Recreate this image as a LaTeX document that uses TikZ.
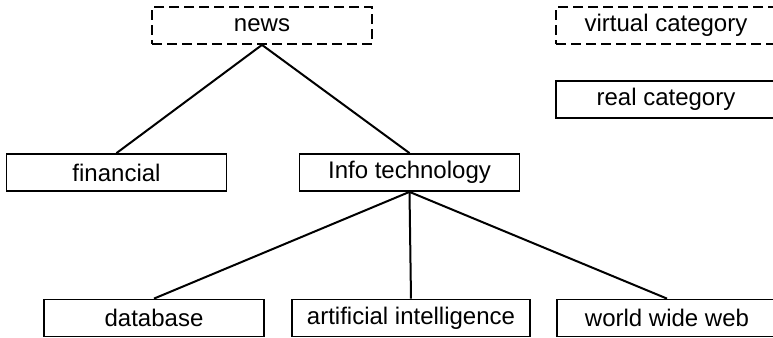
\documentclass[tikz,border=0pt]{standalone}
\usepackage{fontspec}
\setmainfont{Liberation Sans}
\usetikzlibrary{positioning}
\tikzset{every path/.style={black, line width=1pt}, cat/.style={draw, line width=0.9pt, minimum width=110pt, minimum height=18.5pt, inner sep=0pt, font=\fontsize{12}{14}\selectfont}, virtcat/.style={cat, dash pattern=on 5pt off 2.5pt}}

\begin{document}
\begin{tikzpicture}[x=0.5pt,y=-0.5pt]
  \useasboundingbox (0,0) rectangle (773,338);
  \node[virtcat] (news) at (262,25.5) {news};
  \node[virtcat] (virtual) at (666,25.5) {virtual category};
  \node[cat] (real) at (666,99.5) {real category};
  \node[cat] (fin) at (116.5,172.5) {financial};
  \node[cat] (info) at (409.5,172.5) {Info technology};
  \node[cat] (db) at (154,318) {database};
  \node[cat, minimum width=119pt] (ai) at (411,318) {artificial intelligence};
  \node[cat] (www) at (667,318) {world wide web};
  \draw (news.south) -- (fin.north);
  \draw (news.south) -- (info.north);
  \draw (info.south) -- (db.north);
  \draw (info.south) -- (ai.north);
  \draw (info.south) -- (www.north);
\end{tikzpicture}
\end{document}
